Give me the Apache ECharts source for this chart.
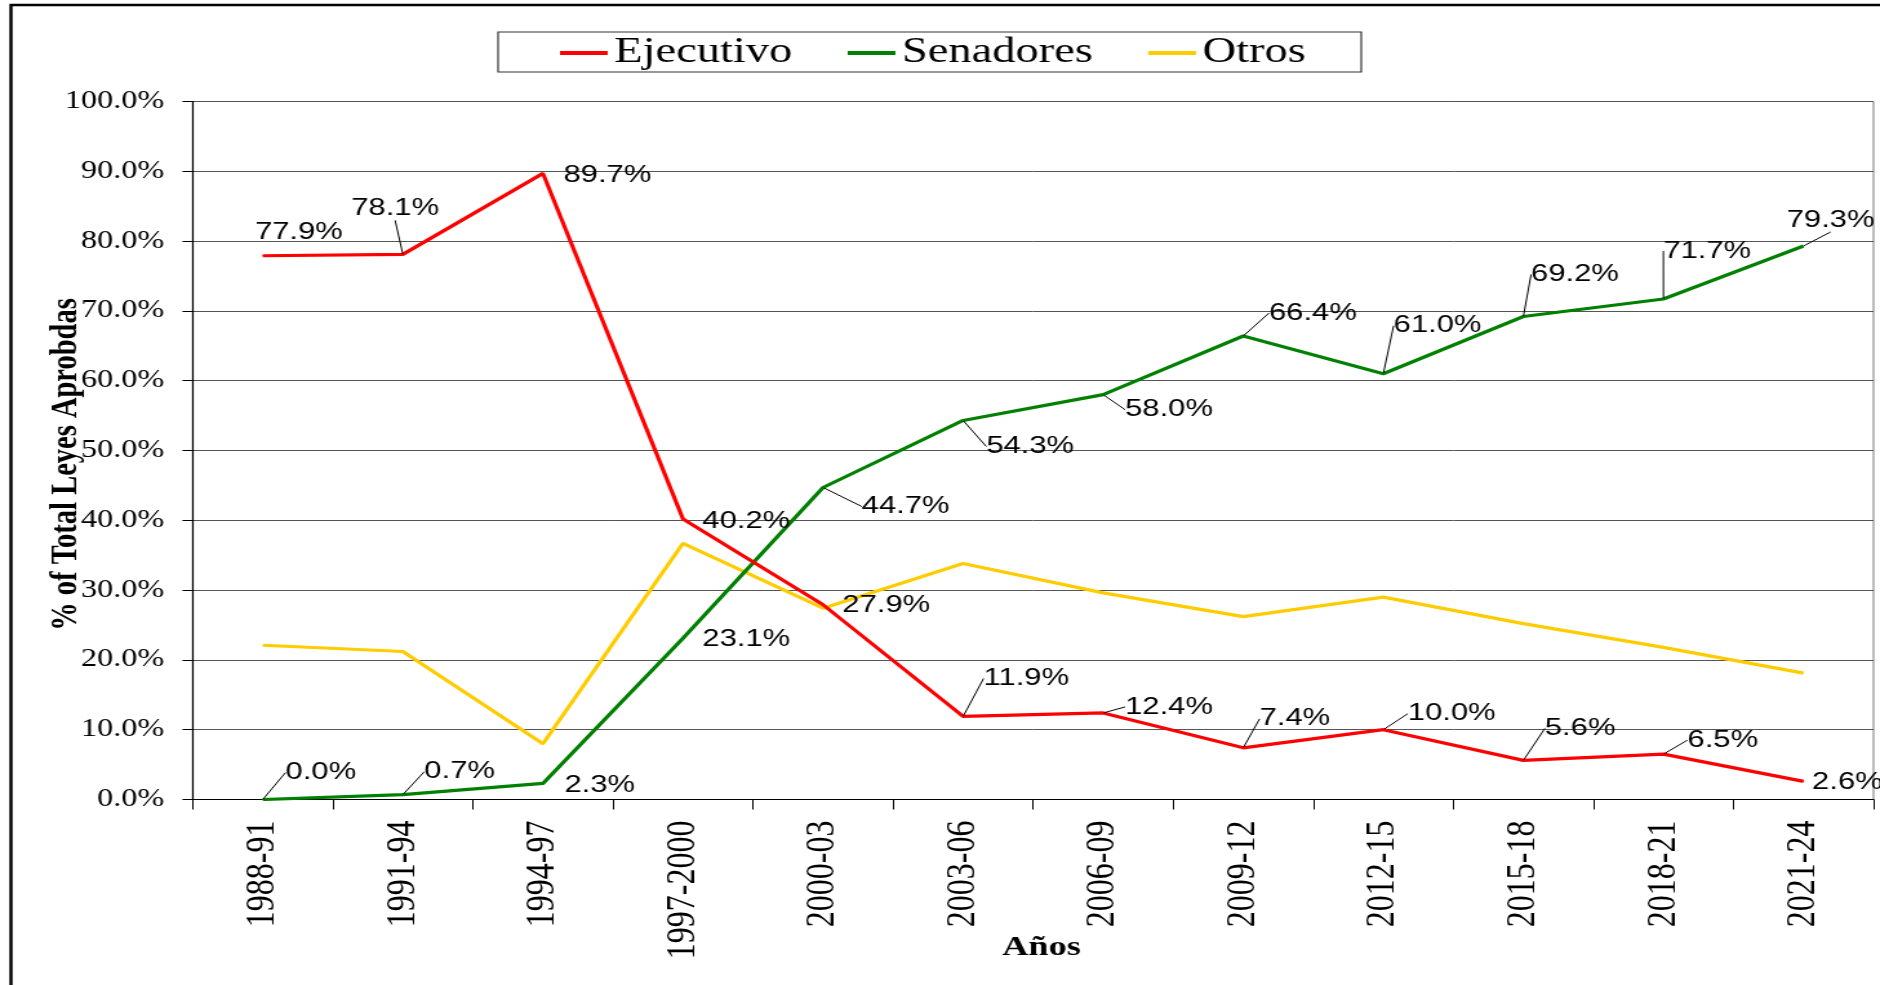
<!DOCTYPE html>
<html>
<head>
<meta charset="utf-8">
<script src="https://cdn.jsdelivr.net/npm/echarts@6/dist/echarts.min.js"></script>
<style>
  html, body { margin: 0; padding: 0; background: #fff; overflow: hidden; }
  /* the original is a horizontally stretched spreadsheet chart, so draw narrow and stretch */
  #chart { width: 1457px; height: 985px; transform: scaleX(1.2903); transform-origin: 0 0; }
</style>
</head>
<body>
<div id="chart"></div>
<script>
const categories = ['1988-91', '1991-94', '1994-97', '1997-2000', '2000-03', '2003-06', '2006-09', '2009-12', '2012-15', '2015-18', '2018-21', '2021-24']
const ejecutivo = [77.9, 78.1, 89.7, 40.2, 27.9, 11.9, 12.4, 7.4, 10.0, 5.6, 6.5, 2.6]
const senadores = [0.0, 0.7, 2.3, 23.1, 44.7, 54.3, 58.0, 66.4, 61.0, 69.2, 71.7, 79.3]
const otros = [22.1, 21.2, 8.0, 36.7, 27.4, 33.8, 29.6, 26.2, 29.0, 25.2, 21.8, 18.1]

// where each data label sits, relative to its point
const ejOffsets = [[28, -23], [-6, -46], [50, 2], [49, 2], [49, 1], [49, -38], [51, -6], [40, -29], [53, -16], [44, -32], [46, -14], [34, 1]]
const seOffsets = [[45, -27], [44, -23], [44, 2], [49, 1], [64, 19], [52, 26], [51, 15], [54, -23], [42, -48], [40, -42], [34, -48], [21, -26]]
const ejLeader = [false, true, false, false, false, true, true, true, true, true, true, false]
const seLeader = [true, true, false, false, true, true, true, true, true, true, true, true]

const serif = 'Liberation Serif'
const sans = 'Liberation Sans'

const labelled = (values, leader) =>
  values.map((v, i) => ({ value: v, labelLine: { show: leader[i] } }))

const chart = echarts.init(document.getElementById('chart'))

const option = {
  animation: false,
  grid: {
    left: 149.4,
    right: 5,
    top: 101.5,
    bottom: 185.5,
    outerBoundsMode: 'none',
    show: true,
    borderColor: '#777',
    borderWidth: 1
  },
  legend: {
    data: ['Ejecutivo', 'Senadores', 'Otros'],
    left: 434,
    top: 35,
    padding: 0,
    itemGap: 43,
    itemWidth: 37,
    itemHeight: 4,
    icon: 'rect',
    textStyle: { fontFamily: serif, fontSize: 36, color: '#000' }
  },
  graphic: [
    {
      type: 'rect',
      shape: { x: 8.5, y: 5, width: 1600, height: 1100 },
      style: { fill: 'none', stroke: '#000', lineWidth: 2.5 },
      silent: true
    },
    {
      type: 'rect',
      shape: { x: 386, y: 32, width: 669, height: 40 },
      style: { fill: 'none', stroke: '#333', lineWidth: 1.2 },
      silent: true
    }
  ],
  xAxis: {
    type: 'category',
    data: categories,
    boundaryGap: true,
    name: 'Años',
    nameLocation: 'middle',
    nameGap: 134,
    nameMoveOverlap: false,
    nameTextStyle: { fontFamily: serif, fontSize: 28, fontWeight: 'bold', color: '#000', padding: [0, 0, 0, 13] },
    axisLine: { lineStyle: { color: '#000', width: 1.2 } },
    axisTick: { show: true, interval: 0, length: 10, lineStyle: { color: '#000' } },
    axisLabel: {
      interval: 0,
      rotate: 90,
      margin: 21,
      fontFamily: serif,
      fontSize: 32,
      color: '#000'
    },
    splitLine: { show: false }
  },
  yAxis: {
    type: 'value',
    min: 0,
    max: 100,
    interval: 10,
    name: '% of Total Leyes Aprobdas',
    nameLocation: 'middle',
    nameGap: 83,
    nameMoveOverlap: false,
    nameTextStyle: { fontFamily: serif, fontSize: 28.5, fontWeight: 'bold', color: '#000', padding: [0, 28, 0, 0] },
    axisLine: { show: true, lineStyle: { color: '#000', width: 1.2 } },
    axisTick: { show: true, length: 8, lineStyle: { color: '#000' } },
    axisLabel: {
      margin: 22,
      fontFamily: serif,
      fontSize: 25,
      color: '#000',
      formatter: (v) => v.toFixed(1) + '%'
    },
    splitLine: { show: true, lineStyle: { color: '#555', width: 1 } }
  },
  series: [
    {
      name: 'Otros',
      type: 'line',
      data: otros,
      symbol: 'none',
      lineStyle: { color: '#ffcc00', width: 3.2 },
      itemStyle: { color: '#ffcc00' }
    },
    {
      name: 'Senadores',
      type: 'line',
      data: labelled(senadores, seLeader),
      symbol: 'circle',
      symbolSize: 1,
      showSymbol: true,
      lineStyle: { color: '#008000', width: 3.2 },
      itemStyle: { color: '#008000' },
      label: {
        show: true,
        position: 'inside',
        fontFamily: sans,
        fontSize: 24,
        color: '#000',
        formatter: (p) => p.value.toFixed(1) + '%'
      },
      labelLine: { show: true, lineStyle: { color: '#000', width: 1 } },
      labelLayout: (p) => ({ dx: seOffsets[p.dataIndex][0], dy: seOffsets[p.dataIndex][1] })
    },
    {
      name: 'Ejecutivo',
      type: 'line',
      data: labelled(ejecutivo, ejLeader),
      symbol: 'circle',
      symbolSize: 1,
      showSymbol: true,
      lineStyle: { color: '#ff0000', width: 3.2 },
      itemStyle: { color: '#ff0000' },
      label: {
        show: true,
        position: 'inside',
        fontFamily: sans,
        fontSize: 24,
        color: '#000',
        formatter: (p) => p.value.toFixed(1) + '%'
      },
      labelLine: { show: true, lineStyle: { color: '#000', width: 1 } },
      labelLayout: (p) => ({ dx: ejOffsets[p.dataIndex][0], dy: ejOffsets[p.dataIndex][1] })
    }
  ]
}

chart.setOption(option)
</script>
</body>
</html>
